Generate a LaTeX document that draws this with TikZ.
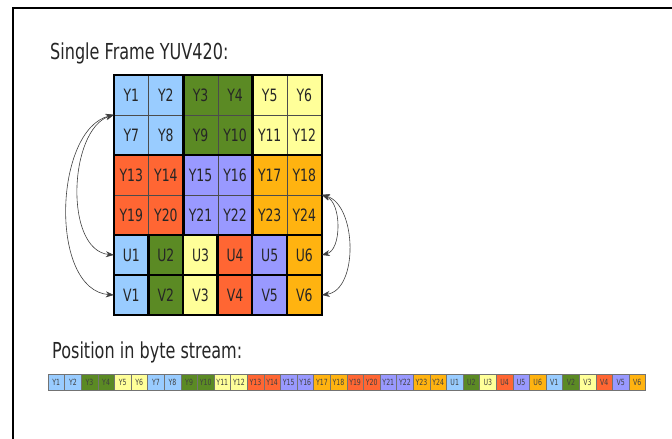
\documentclass[tikz,border=0pt]{standalone}
\usepackage{fontspec}
\setmainfont{DejaVu Sans}[FakeStretch=0.73]
\usetikzlibrary{arrows.meta}
\definecolor{yuv0}{HTML}{99CCFF}
\definecolor{yuv1}{HTML}{5B8A24}
\definecolor{yuv2}{HTML}{FFFF99}
\definecolor{yuv3}{HTML}{FF6633}
\definecolor{yuv4}{HTML}{9999FF}
\definecolor{yuv5}{HTML}{FFB310}
\tikzset{
	cell/.style = {draw=black!70, minimum width=34.6pt, minimum height=40pt,
		inner sep=0pt, text=black!85, font=\fontsize{17}{17}\selectfont},% one sample of the frame
	bytecell/.style = {draw=black!55, minimum width=16.6pt, minimum height=16pt,
		inner sep=0pt, text=black!75, font=\fontsize{8.5}{8.5}\selectfont},% one sample in the stream
	blockframe/.style = {draw=black, line width=2.5pt},% frame round a block
	heading/.style = {anchor=base west, inner sep=0pt, text=black!85,
		font=\fontsize{22}{22}\selectfont},
	swap/.style = {{Stealth[length=8pt,width=6pt]}-{Stealth[length=8pt,width=6pt]}, black!75, semithick}
}

\begin{document}
\begin{tikzpicture}[x=1pt, y=-1pt]
	\useasboundingbox (0,0) rectangle (672,439);
	\draw[line width=2pt] (12.5,439) -- (12.5,8) -- (672,8);
	\node[heading] (title) at (50,59) {Single Frame YUV420:};
	% luma plane
	\foreach \r in {0,...,3}
	\foreach \c in {0,...,5}{
		\pgfmathtruncatemacro\n{6*\r+\c+1}
		\pgfmathtruncatemacro\b{3*int(\r/2)+int(\c/2)}
		\node[cell, fill=yuv\b] (Y\n) at ({131.3+34.6*\c},{95+40*\r}) {Y\n};
	}
	\foreach \a/\z in {1/8,3/10,5/12,13/20,15/22,17/24}
		\draw[blockframe] (Y\a.north west) rectangle (Y\z.south east);
	% chroma planes
	\foreach \c in {0,...,5}{
		\pgfmathtruncatemacro\n{\c+1}
		\node[cell, fill=yuv\c] (U\n) at ({131.3+34.6*\c},255) {U\n};
		\node[cell, fill=yuv\c] (V\n) at ({131.3+34.6*\c},295) {V\n};
		\draw[blockframe] (U\n.north west) rectangle (U\n.south east);
		\draw[blockframe] (V\n.north west) rectangle (V\n.south east);
	}
	\draw[swap] (Y7.north west) .. controls +(-45,15) and +(-50,-5) .. (U1.west);
	\draw[swap] (Y7.north west) .. controls +(-60,15) and +(-65,-5) .. (V1.west);
	\draw[swap] (Y24.north east) .. controls +(20,8) and +(20,-5) .. (U6.east);
	\draw[swap] (Y24.north east) .. controls +(35,10) and +(37,-5) .. (V6.east);
	% byte stream
	\node[heading] (stream) at (52,358) {Position in byte stream:};
	\foreach \i in {1,...,24}{
		\pgfmathtruncatemacro\b{3*int((\i-1)/12)+int(mod(\i-1,6)/2)}
		\node[bytecell, fill=yuv\b] (s\i) at ({48+16.6*(\i-0.5)},382) {Y\i};
	}
	\foreach \c in {0,...,5}{
		\pgfmathtruncatemacro\n{\c+1}
		\pgfmathtruncatemacro\u{\c+25}
		\pgfmathtruncatemacro\v{\c+31}
		\node[bytecell, fill=yuv\c] (s\u) at ({48+16.6*(\u-0.5)},382) {U\n};
		\node[bytecell, fill=yuv\c] (s\v) at ({48+16.6*(\v-0.5)},382) {V\n};
	}
\end{tikzpicture}
\end{document}
